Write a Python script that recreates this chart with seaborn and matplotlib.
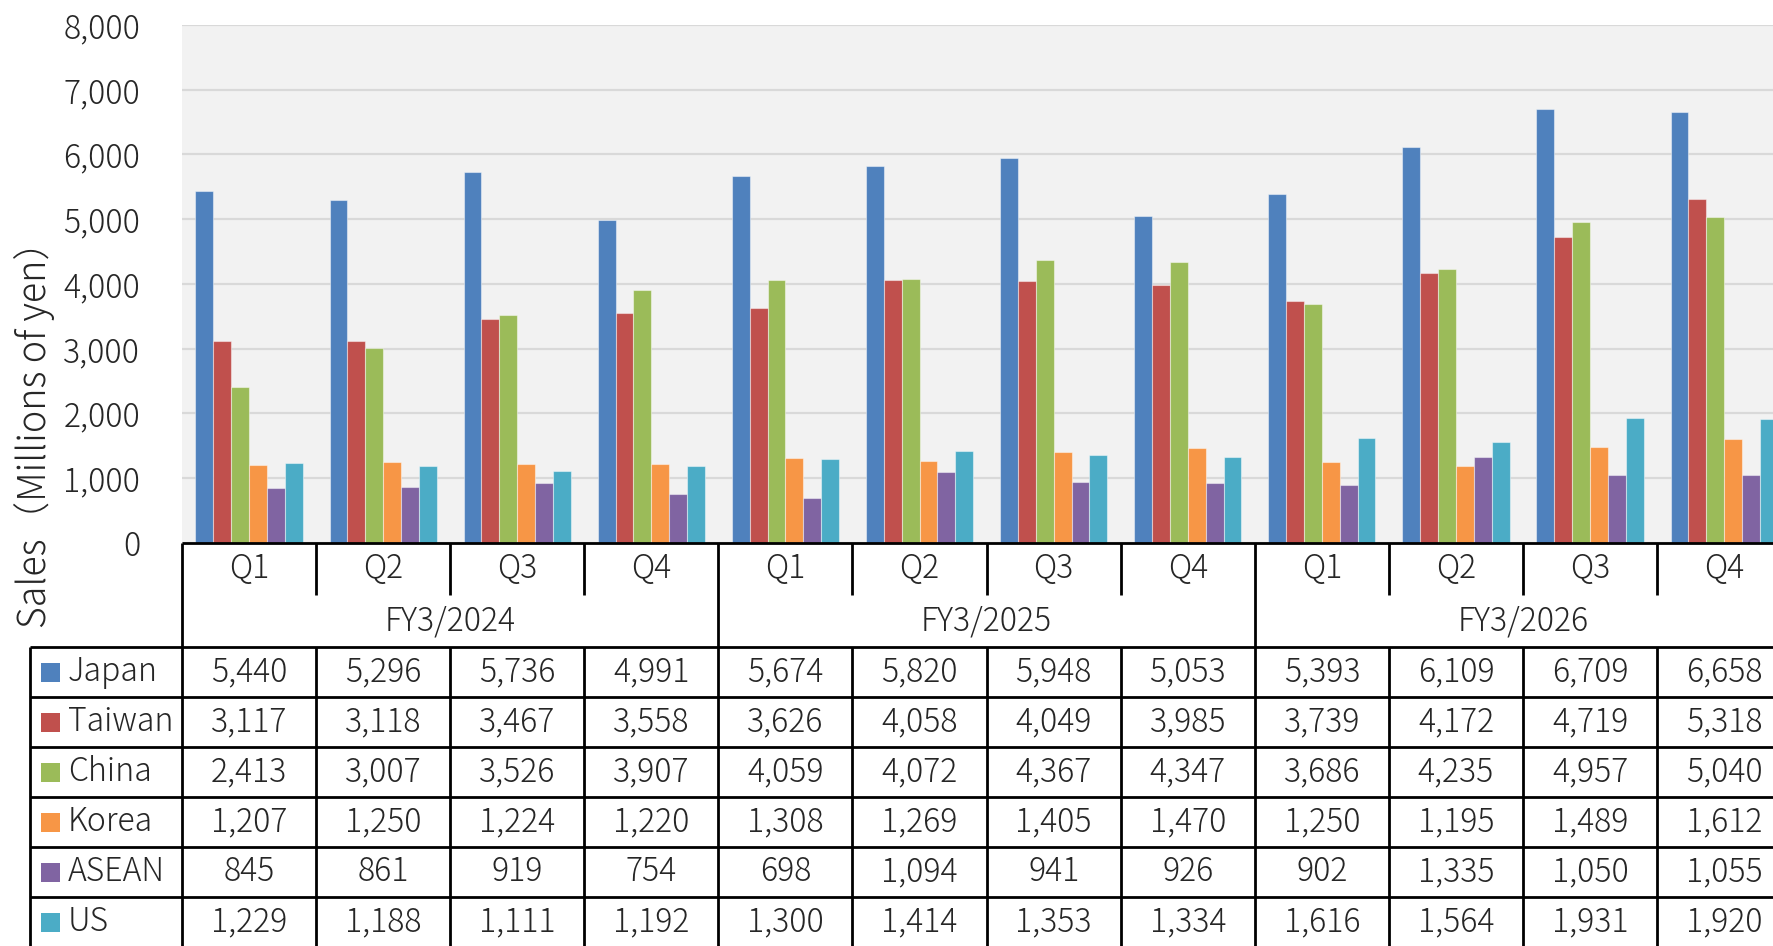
import pandas as pd
import matplotlib
matplotlib.use("Agg")
import matplotlib.pyplot as plt
import matplotlib.transforms as mtransforms
import seaborn as sns

# ==========================================
# Data
# ==========================================
quarters = ["Q1", "Q2", "Q3", "Q4"]
fiscal_years = ["FY3/2024", "FY3/2025", "FY3/2026"]
regions = ["Japan", "Taiwan", "China", "Korea", "ASEAN", "US"]

japan = [5440, 5296, 5736, 4991, 5674, 5820, 5948, 5053, 5393, 6109, 6709, 6658]
taiwan = [3117, 3118, 3467, 3558, 3626, 4058, 4049, 3985, 3739, 4172, 4719, 5318]
china = [2413, 3007, 3526, 3907, 4059, 4072, 4367, 4347, 3686, 4235, 4957, 5040]
korea = [1207, 1250, 1224, 1220, 1308, 1269, 1405, 1470, 1250, 1195, 1489, 1612]
asean = [845, 861, 919, 754, 698, 1094, 941, 926, 902, 1335, 1050, 1055]
us = [1229, 1188, 1111, 1192, 1300, 1414, 1353, 1334, 1616, 1564, 1931, 1920]

colors = ["#4F81BD", "#C0504D", "#9BBB59", "#F79646", "#8064A2", "#4BACC6"]

y_ticks = [0, 1000, 2000, 3000, 4000, 5000, 6000, 7000, 8000]

series = dict(zip(regions, [japan, taiwan, china, korea, asean, us]))
periods = [f"{fy} {q}" for fy in fiscal_years for q in quarters]

rows = []
for region in regions:
    for period, value in zip(periods, series[region]):
        rows.append({"period": period, "region": region, "sales": value})
df = pd.DataFrame(rows)

# ==========================================
# Figure layout (pixel based)
# ==========================================
W, H = 1773, 946
sns.set_style("white")
plt.rcParams["font.family"] = ["Noto Sans CJK JP", "DejaVu Sans"]
plt.rcParams["font.weight"] = "light"

fig = plt.figure(figsize=(W / 100, H / 100), dpi=100)

left_px, top_px, zero_px = 182, 25, 543
group_px = 134.1
ax = fig.add_axes([
    left_px / W,
    1 - zero_px / H,
    group_px * 12 / W,
    (zero_px - top_px) / H
])

sns.barplot(
    data=df,
    x="period",
    y="sales",
    hue="region",
    hue_order=regions,
    palette=colors,
    saturation=1,
    width=0.8,
    edgecolor=(1, 1, 1, 0.45),
    linewidth=0.8,
    legend=False,
    ax=ax
)

ax.set_facecolor("#F2F2F2")
ax.set_xlim(-0.5, 11.5)
ax.set_ylim(0, 8000)
ax.set_yticks(y_ticks)
ax.set_yticklabels([f"{v:,}" for v in y_ticks], fontsize=23)
ax.tick_params(axis="y", length=0, pad=30)
ax.set_xticks([])
ax.set_xlabel("")
ax.set_ylabel("")
ax.yaxis.grid(True, color="#D9D9D9", linewidth=1.6)
ax.set_axisbelow(True)
for side in ["left", "right", "top", "bottom"]:
    ax.spines[side].set_visible(False)

fig.text(
    35 / W, 1 - 425 / H,
    "Sales（Millions of yen）",
    rotation=90, ha="center", va="center", fontsize=27
)

# ==========================================
# Data table below the chart
# ==========================================
blend = mtransforms.blended_transform_factory(ax.transData, fig.transFigure)


def fy(py):
    return 1 - py / H


def hline(x0, x1, py, transform):
    ax.plot([x0, x1], [fy(py), fy(py)], color="black", lw=2,
            transform=transform, clip_on=False, solid_capstyle="butt")


def vline(x, py0, py1, transform):
    ax.plot([x, x], [fy(py0), fy(py1)], color="black", lw=2,
            transform=transform, clip_on=False, solid_capstyle="butt")


q_row_bottom = 595
fy_row_bottom = 647
row_h = 50
table_bottom = fy_row_bottom + row_h * len(regions)

# horizontal lines
hline(-0.5, 11.5, zero_px, blend)
hline(30 / W, 1.05, fy_row_bottom, fig.transFigure)
for i in range(1, len(regions) + 1):
    hline(30 / W, 1.05, fy_row_bottom + row_h * i, fig.transFigure)

# vertical lines
vline(30 / W, fy_row_bottom, table_bottom, fig.transFigure)
for i in range(13):
    xb = i - 0.5
    if i % 4 == 0:
        vline(xb, zero_px, table_bottom, blend)
    else:
        vline(xb, zero_px, q_row_bottom, blend)
        vline(xb, fy_row_bottom, table_bottom, blend)

# quarter and fiscal year labels
for i, period in enumerate(periods):
    ax.text(i, fy(569), quarters[i % 4], transform=blend,
            ha="center", va="center", fontsize=23)
for k, name in enumerate(fiscal_years):
    ax.text(4 * k + 1.5, fy(621), name, transform=blend,
            ha="center", va="center", fontsize=23)

# legend column and values
for r, region in enumerate(regions):
    cy = fy_row_bottom + row_h * r + row_h / 2
    fig.patches.append(plt.Rectangle(
        (41 / W, fy(cy + 9.5)), 19 / W, 19 / H,
        transform=fig.transFigure, facecolor=colors[r], edgecolor="none"
    ))
    fig.text(68 / W, fy(cy), region, ha="left", va="center", fontsize=23)
    for i, value in enumerate(series[region]):
        ax.text(i, fy(cy), f"{value:,}", transform=blend,
                ha="center", va="center", fontsize=23)

fig.savefig("out.png", dpi=100)
